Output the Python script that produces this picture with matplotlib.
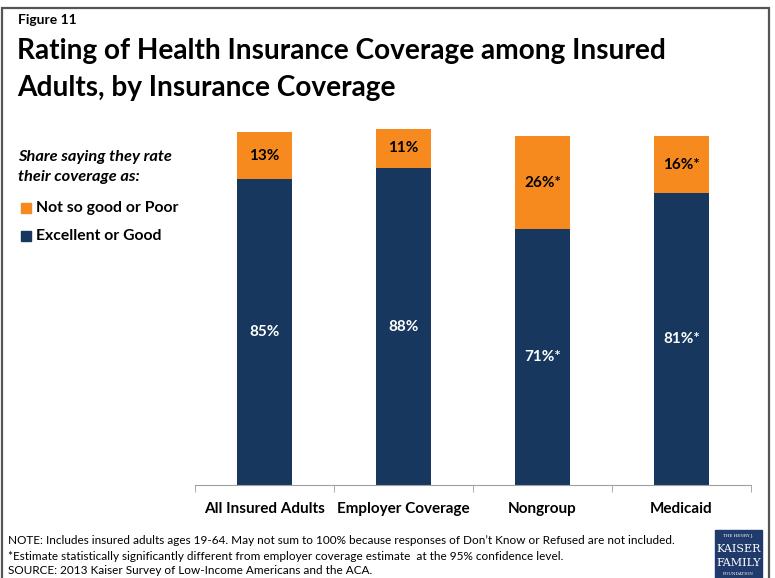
import matplotlib.pyplot as plt
import numpy as np
from matplotlib.patches import Rectangle

W, H = 775, 578

categories = ["All Insured Adults", "Employer Coverage", "Nongroup", "Medicaid"]
good = [85, 88, 71, 81]
poor = [13, 11, 26, 16]
good_labels = ["85%", "88%", "71%*", "81%*"]
poor_labels = ["13%", "11%", "26%*", "16%*"]

NAVY = "#17375E"
ORANGE = "#F68A1E"
FONT = "Lato"


def fx(x):
    return x / W


def fy(y):
    return 1 - y / H


fig = plt.figure(figsize=(W / 100, H / 100), dpi=100)
fig.patch.set_facecolor("white")

# outer frame
fig.add_artist(Rectangle((fx(1.5), fy(600)), fx(769) - fx(1.5), fy(8) - fy(600),
                         transform=fig.transFigure, fill=False,
                         edgecolor="#555555", linewidth=1.6, clip_on=False))

fig.text(fx(18), fy(20), "Figure 11", fontsize=10, fontweight="bold",
         family=FONT, va="center", ha="left")
fig.text(fx(17), fy(51), "Rating of Health Insurance Coverage among Insured",
         fontsize=20.2, fontweight="bold", family=FONT, va="center", ha="left")
fig.text(fx(17), fy(88), "Adults, by Insurance Coverage",
         fontsize=20.2, fontweight="bold", family=FONT, va="center", ha="left")

# legend block
fig.text(fx(18), fy(157), "Share saying they rate", fontsize=11.8,
         fontweight="bold", style="italic", family=FONT, va="center")
fig.text(fx(18), fy(177), "their coverage as:", fontsize=11.8,
         fontweight="bold", style="italic", family=FONT, va="center")
for yy, col, lab in [(208, ORANGE, "Not so good or Poor"),
                     (236, NAVY, "Excellent or Good")]:
    fig.add_artist(Rectangle((fx(21), fy(yy + 5)), fx(10), fx(10) * W / H,
                             transform=fig.transFigure, color=col))
    fig.text(fx(36), fy(yy), lab, fontsize=11.3, fontweight="bold",
             family=FONT, va="center")

ax = fig.add_axes([fx(195), fy(485), fx(751) - fx(195), fy(125) - fy(485)])
x = np.arange(len(categories))
ax.bar(x, good, width=0.4, color=NAVY)
ax.bar(x, poor, width=0.4, bottom=good, color=ORANGE)

for i in range(len(categories)):
    ax.text(x[i], good[i] / 2, good_labels[i], ha="center", va="center",
            color="white", fontsize=11, fontweight="bold", family=FONT)
    ax.text(x[i], good[i] + poor[i] / 2, poor_labels[i], ha="center",
            va="center", color="black", fontsize=11, fontweight="bold",
            family=FONT)

ax.set_xlim(-0.5, len(categories) - 0.5)
ax.set_ylim(0, 100)
for s in ["top", "right", "left"]:
    ax.spines[s].set_visible(False)
ax.spines["bottom"].set_color("#A0A0A0")
ax.set_yticks([])
ax.set_xticks(np.arange(len(categories) + 1) - 0.5, minor=True)
ax.tick_params(axis="x", which="minor", length=5, color="#A0A0A0")
ax.tick_params(axis="x", which="major", length=0, pad=12)
ax.set_xticks(x)
ax.set_xticklabels(categories, fontsize=11, fontweight="bold", family=FONT)

# footnotes
notes = [
    "NOTE: Includes insured adults ages 19-64. May not sum to 100% because responses of Don\u2019t Know or Refused are not included.",
    "*Estimate statistically significantly different from employer coverage estimate  at the 95% confidence level.",
    "SOURCE: 2013 Kaiser Survey of Low-Income Americans and the ACA.",
]
for k, line in enumerate(notes):
    fig.text(fx(8), fy(541 + 15 * k), line, fontsize=8.45, family=FONT,
             va="center", ha="left")

# logo
fig.add_artist(Rectangle((fx(715), fy(578)), fx(47), fy(530) - fy(578),
                         transform=fig.transFigure, color="#1F3A6B"))
fig.text(fx(738.5), fy(536), "THE HENRY J.", fontsize=3, color="white",
         family="DejaVu Serif", ha="center", va="center")
fig.text(fx(738.5), fy(549), "KAISER", fontsize=8, color="white",
         family="DejaVu Serif", ha="center", va="center")
fig.text(fx(738.5), fy(563), "FAMILY", fontsize=8, color="white",
         family="DejaVu Serif", ha="center", va="center")
fig.text(fx(738.5), fy(574), "FOUNDATION", fontsize=3, color="white",
         family="DejaVu Serif", ha="center", va="center")

fig.savefig("out.png", dpi=100)
